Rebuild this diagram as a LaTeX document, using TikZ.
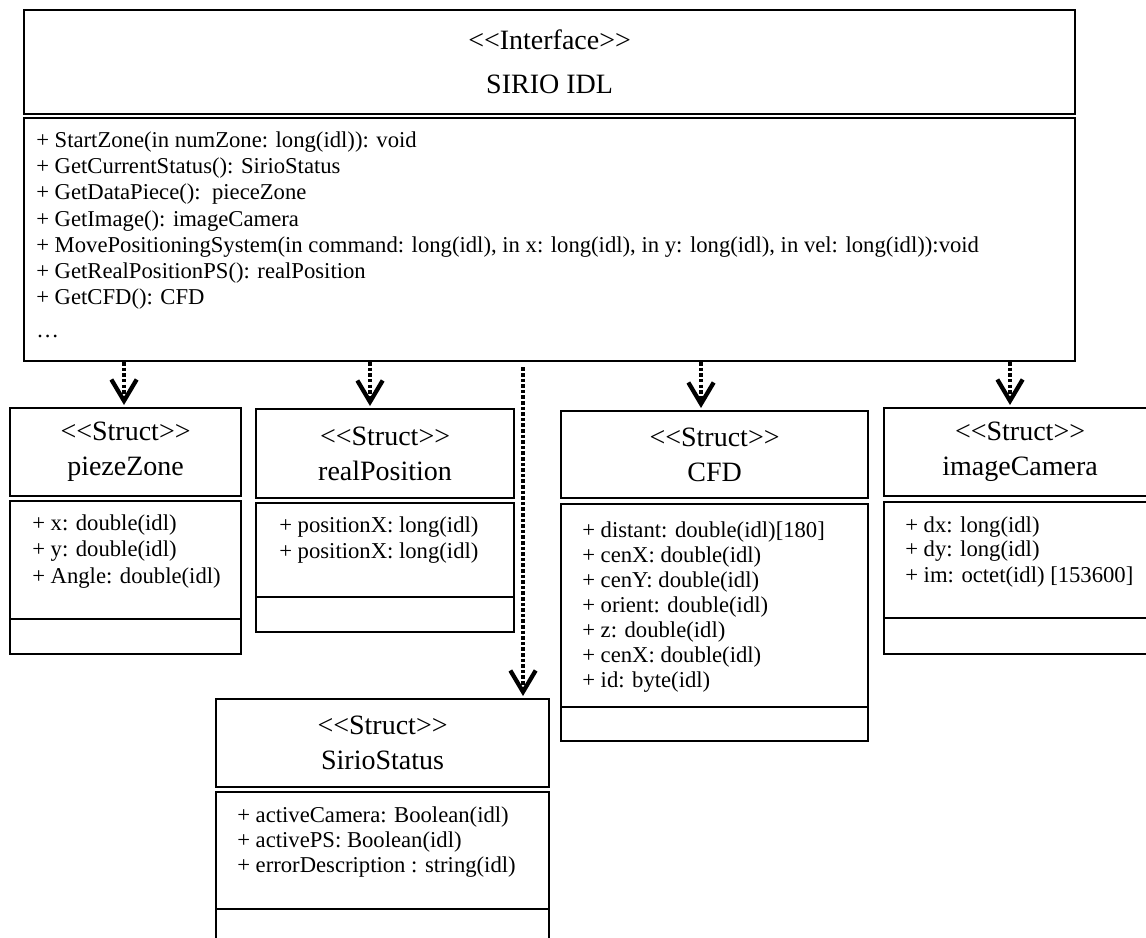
\documentclass[tikz,border=0pt]{standalone}
\usepackage{fontspec}
\setmainfont{Liberation Serif}
\usetikzlibrary{arrows.meta}
\begin{document}
\begin{tikzpicture}[x=0.75pt,y=-0.75pt,
  box/.style={draw, line width=1.6pt, inner sep=0pt, anchor=north west},
  ttl/.style={box, align=center, font=\fontsize{21pt}{26.25pt}\selectfont},
  itm/.style={anchor=west, inner sep=0pt, font=\fontsize{17pt}{20pt}\selectfont, text height=12pt, text depth=3.8pt},
  dep/.style={line width=2.6pt, dash pattern=on 2.6pt off 1.6pt, -{Straight Barb[length=16pt,width=19pt,line width=3.2pt]}},
  divider/.style={line width=1.6pt}
]
\useasboundingbox (0,0) rectangle (1146,938);
\clip (0,0) rectangle (1146,938);
\fill[white] (0,0) rectangle (1146,938);

% Interface
\node[ttl, minimum width=788.25pt, minimum height=78pt, font=\fontsize{21pt}{33pt}\selectfont] (ifh) at (23,9) {<{}<Interface>{}>\\SIRIO IDL};
\node[box, minimum width=788.25pt, minimum height=182.25pt] (ifb) at (23,117) {};
\node[itm] (m1) at (36,142) {+ StartZone(in numZone: long(idl)): void};
\node[itm] (m2) at (36,168) {+ GetCurrentStatus(): SirioStatus};
\node[itm] (m3) at (36,194) {+ GetDataPiece():\ \ pieceZone};
\node[itm] (m4) at (36,221) {+ GetImage(): imageCamera};
\node[itm] (m5) at (36,247) {+ MovePositioningSystem(in command: long(idl), in x: long(idl), in y: long(idl), in vel: long(idl)):void};
\node[itm] (m6) at (36,273) {+ GetRealPositionPS(): realPosition};
\node[itm] (m7) at (36,299) {+ GetCFD(): CFD};
\node[itm] (m8) at (36,332) {…};

% piezeZone
\node[ttl, minimum width=173.25pt, minimum height=66pt] (pzh) at (9,407) {<{}<Struct>{}>\\piezeZone};
\node[box, minimum width=173.25pt, minimum height=114.75pt] (pzb) at (9,500) {};
\draw[divider] (pzb.west |- 0,619) -- (pzb.east |- 0,619);
\node[itm] (pz1) at (32,525) {+ x: double(idl)};
\node[itm] (pz2) at (32,551) {+ y: double(idl)};
\node[itm] (pz3) at (32,578) {+ Angle: double(idl)};

% realPosition
\node[ttl, minimum width=193.5pt, minimum height=66.75pt] (rph) at (255,408) {<{}<Struct>{}>\\realPosition};
\node[box, minimum width=193.5pt, minimum height=96.75pt] (rpb) at (255,502) {};
\draw[divider] (rpb.west |- 0,597) -- (rpb.east |- 0,597);
\node[itm] (rp1) at (279,527) {+ positionX: long(idl)};
\node[itm] (rp2) at (279,553) {+ positionX: long(idl)};

% CFD
\node[ttl, minimum width=230.25pt, minimum height=65.25pt] (cfh) at (560,410) {<{}<Struct>{}>\\CFD};
\node[box, minimum width=230.25pt, minimum height=177.75pt] (cfb) at (560,503) {};
\draw[divider] (cfb.west |- 0,707) -- (cfb.east |- 0,707);
\node[itm] (cf1) at (582,532) {+ distant: double(idl)[180]};
\node[itm] (cf2) at (582,557) {+ cenX: double(idl)};
\node[itm] (cf3) at (582,582) {+ cenY: double(idl)};
\node[itm] (cf4) at (582,607) {+ orient: double(idl)};
\node[itm] (cf5) at (582,632) {+ z: double(idl)};
\node[itm] (cf6) at (582,657) {+ cenX: double(idl)};
\node[itm] (cf7) at (582,682) {+ id: byte(idl)};

% imageCamera
\node[ttl, minimum width=204pt, minimum height=66pt] (ich) at (883,407) {<{}<Struct>{}>\\imageCamera};
\node[box, minimum width=204pt, minimum height=114pt] (icb) at (883,501) {};
\draw[divider] (icb.west |- 0,618) -- (icb.east |- 0,618);
\node[itm] (ic1) at (905,527) {+ dx: long(idl)};
\node[itm] (ic2) at (905,551) {+ dy: long(idl)};
\node[itm] (ic3) at (905,577) {+ im: octet(idl) [153600]};

% SirioStatus
\node[ttl, minimum width=249.75pt, minimum height=66pt] (ssh) at (215,698) {<{}<Struct>{}>\\SirioStatus};
\node[box, minimum width=249.75pt, minimum height=150pt] (ssb) at (215,791) {};
\draw[divider] (ssb.west |- 0,909) -- (ssb.east |- 0,909);
\node[itm] (ss1) at (237,817) {+ activeCamera: Boolean(idl)};
\node[itm] (ss2) at (237,842) {+ activePS: Boolean(idl)};
\node[itm] (ss3) at (237,867) {+ errorDescription : string(idl)};

% connectors
\coordinate (t1) at (124,405);
\coordinate (t2) at (370,406);
\coordinate (t3) at (523,696);
\coordinate (t4) at (701,408);
\coordinate (t5) at (1010,405);
\draw[dep] (ifb.south -| t1) -- (t1);
\draw[dep] (ifb.south -| t2) -- (t2);
\draw[dep] ([yshift=-4pt]ifb.south -| t3) -- (t3);
\draw[dep] (ifb.south -| t4) -- (t4);
\draw[dep] (ifb.south -| t5) -- (t5);
\end{tikzpicture}
\end{document}
